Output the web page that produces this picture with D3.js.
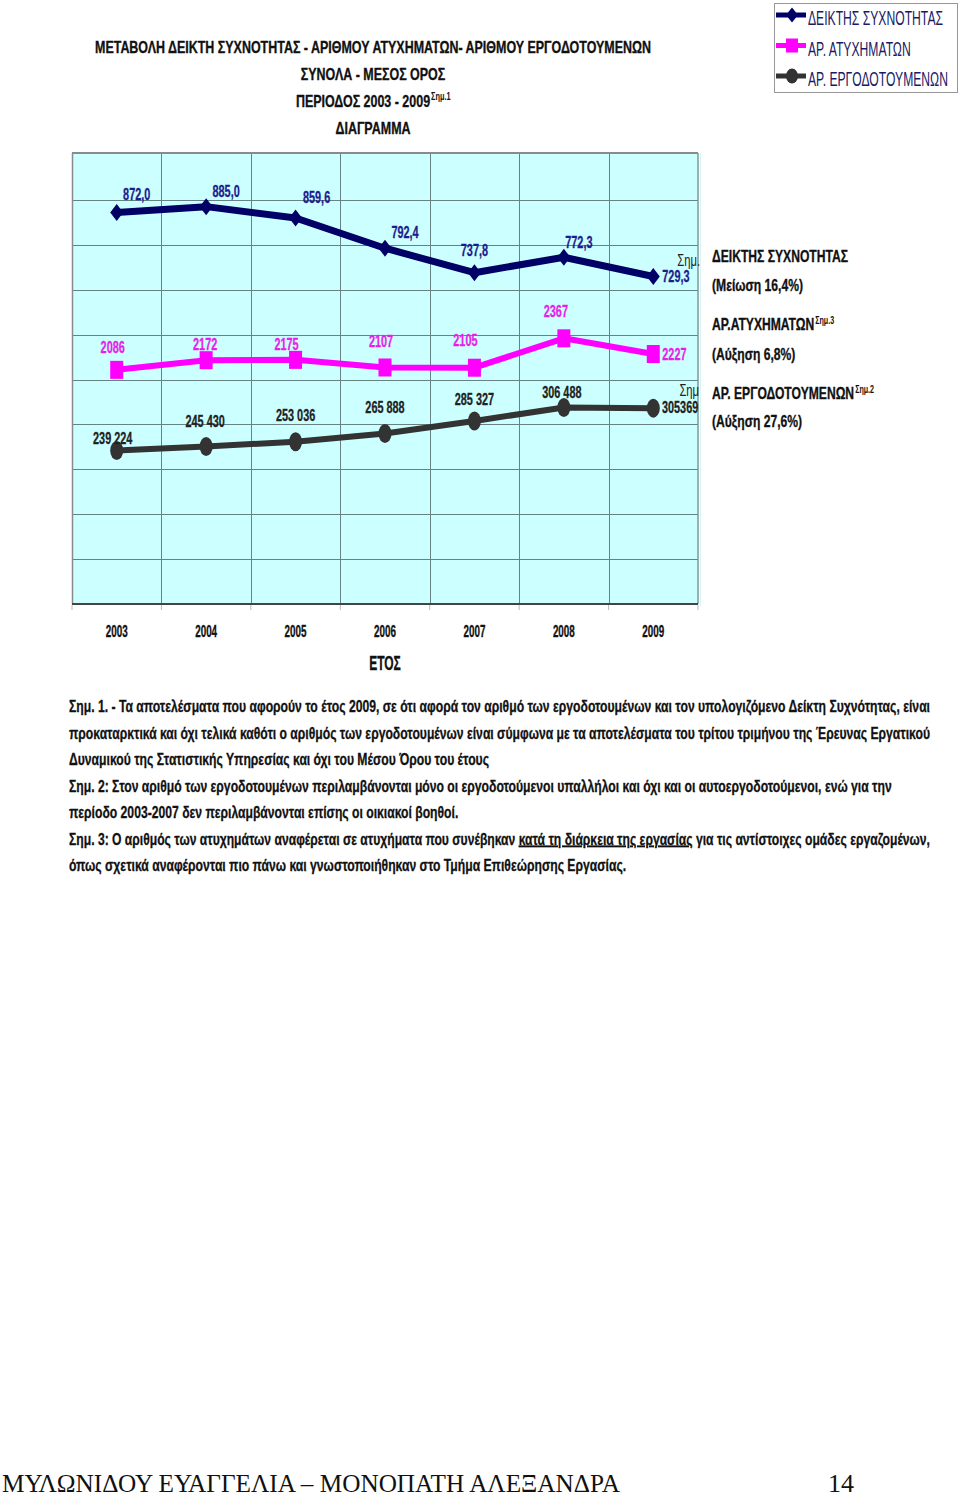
<!DOCTYPE html>
<html><head><meta charset="utf-8">
<script src="https://cdn.jsdelivr.net/npm/d3@7"></script>
<style>body{margin:0;background:#fff} svg{display:block}</style>
</head><body>
<script>
// ---------- DATA ----------
const years = ["2003","2004","2005","2006","2007","2008","2009"];
const frequencyIndex = [872.0, 885.0, 859.6, 792.4, 737.8, 772.3, 729.3];
const accidents = [2086, 2172, 2175, 2107, 2105, 2367, 2227];
const employees = [239224, 245430, 253036, 265888, 285327, 306488, 305369];
const frequencyLabels = ["872,0","885,0","859,6","792,4","737,8","772,3","729,3"];
const accidentLabels = ["2086","2172","2175","2107","2105","2367","2227"];
const employeeLabels = ["239 224","245 430","253 036","265 888","285 327","306 488","305369"];
const seriesNames = ["ΔΕΙΚΤΗΣ ΣΥΧΝΟΤΗΤΑΣ","ΑΡ. ΑΤΥΧΗΜΑΤΩΝ","ΑΡ. ΕΡΓΟΔΟΤΟΥΜΕΝΩΝ"];
const titleLines = ["ΜΕΤΑΒΟΛΗ ΔΕΙΚΤΗ ΣΥΧΝΟΤΗΤΑΣ - ΑΡΙΘΜΟΥ ΑΤΥΧΗΜΑΤΩΝ- ΑΡΙΘΜΟΥ ΕΡΓΟΔΟΤΟΥΜΕΝΩΝ","ΣΥΝΟΛΑ - ΜΕΣΟΣ ΟΡΟΣ","ΠΕΡΙΟΔΟΣ 2003 - 2009","ΔΙΑΓΡΑΜΜΑ"];
const xAxisTitle = "ΕΤΟΣ";
const changeNotes = [
  {head:"ΔΕΙΚΤΗΣ ΣΥΧΝΟΤΗΤΑΣ", sup:"", sub:"(Μείωση 16,4%)"},
  {head:"ΑΡ.ΑΤΥΧΗΜΑΤΩΝ", sup:"Σημ.3", sub:"(Αύξηση 6,8%)"},
  {head:"ΑΡ. ΕΡΓΟΔΟΤΟΥΜΕΝΩΝ", sup:"Σημ.2", sub:"(Αύξηση 27,6%)"}
];
const footnoteLines = [
  "Σημ. 1. - Τα αποτελέσματα που αφορούν το έτος 2009, σε ότι αφορά τον αριθμό των εργοδοτουμένων και τον υπολογιζόμενο Δείκτη Συχνότητας, είναι",
  "προκαταρκτικά και όχι τελικά καθότι ο αριθμός των εργοδοτουμένων είναι σύμφωνα με τα αποτελέσματα του τρίτου τριμήνου της Έρευνας Εργατικού",
  "Δυναμικού της Στατιστικής Υπηρεσίας και όχι του Μέσου Όρου του έτους",
  "Σημ. 2: Στον αριθμό των εργοδοτουμένων περιλαμβάνονται μόνο οι εργοδοτούμενοι υπαλλήλοι και όχι και οι αυτοεργοδοτούμενοι, ενώ για την",
  "περίοδο 2003-2007 δεν περιλαμβάνονται επίσης οι οικιακοί βοηθοί.",
  ["Σημ. 3: Ο αριθμός των ατυχημάτων αναφέρεται σε ατυχήματα που συνέβηκαν ","κατά τη διάρκεια της εργασίας"," για τις αντίστοιχες ομάδες εργαζομένων,"],
  "όπως σχετικά αναφέρονται πιο πάνω και γνωστοποιήθηκαν στο Τμήμα Επιθεώρησης Εργασίας."
];
const footerText = "ΜΥΛΩΝΙΔΟΥ ΕΥΑΓΓΕΛΙΑ – ΜΟΝΟΠΑΤΗ ΑΛΕΞΑΝΔΡΑ";
const pageNumber = "14";

// ---------- LAYOUT ----------
const W = 960, H = 1495;
const plot = {l:72, r:698, t:155, b:604};
const FONT = "'Liberation Sans', Arial, sans-serif";
const C = {freq:"#000066", acc:"#ff00ff", emp:"#333333", freqText:"#1c1c8c", accText:"#e81ee8", empText:"#222"};

const svg = d3.select("body").append("svg").attr("width", W).attr("height", H);

function condense(sel, k){
  sel.each(function(){
    const w = this.getComputedTextLength();
    d3.select(this).attr("textLength", w*k).attr("lengthAdjust","spacingAndGlyphs");
  });
  return sel;
}
function fitWidth(sel, w){
  const natural = sel.node().getComputedTextLength();
  sel.attr("textLength", w).attr("lengthAdjust","spacingAndGlyphs");
  return w/natural;
}
function heavy(sel, color, sw){
  return sel.attr("stroke", color).attr("stroke-width", sw || 0.35).attr("stroke-linejoin", "round");
}

// ---------- SCALES ----------
const x = d3.scaleBand().domain(years).range([plot.l, plot.r]);
const cx = d => x(d) + x.bandwidth()/2;
const yFreq = d3.scaleLinear().domain([0, 1000]).range([plot.b, plot.t]);
const yAcc = d3.scaleLinear().domain([0, 4000]).range([plot.b, plot.t]);
const yEmp = d3.scaleLinear().domain([0, 700000]).range([plot.b, plot.t]);

// ---------- PLOT AREA ----------
svg.append("rect").attr("x", plot.l).attr("y", plot.t-2).attr("width", plot.r-plot.l).attr("height", plot.b-plot.t+2)
  .attr("fill", "#ccffff");
const grid = svg.append("g").attr("stroke", "#668282").attr("stroke-width", 1);
grid.selectAll("line.h").data(yFreq.ticks(10).slice(1, -1)).join("line")
  .attr("x1", plot.l).attr("x2", plot.r).attr("y1", d => Math.round(yFreq(d))+0.5).attr("y2", d => Math.round(yFreq(d))+0.5);
grid.selectAll("line.v").data(years.slice(1)).join("line")
  .attr("x1", d => Math.round(x(d))+0.5).attr("x2", d => Math.round(x(d))+0.5).attr("y1", plot.t-2).attr("y2", plot.b);
// frame
svg.append("line").attr("x1", plot.l).attr("x2", plot.r).attr("y1", plot.t-2).attr("y2", plot.t-2).attr("stroke", "#8a8a8a").attr("stroke-width", 2);
svg.append("line").attr("x1", plot.l+0.5).attr("x2", plot.l+0.5).attr("y1", plot.t-2).attr("y2", plot.b).attr("stroke", "#8a8a8a").attr("stroke-width", 1.5);
svg.append("line").attr("x1", plot.r).attr("x2", plot.r).attr("y1", plot.t-2).attr("y2", plot.b).attr("stroke", "#7a9a9a").attr("stroke-width", 1.5);
svg.append("line").attr("x1", plot.r+2.5).attr("x2", plot.r+2.5).attr("y1", plot.t-2).attr("y2", plot.b+2).attr("stroke", "#d8f4f4").attr("stroke-width", 1);

// x axis
const xAxis = svg.append("g").attr("transform", `translate(0,${plot.b})`)
  .call(d3.axisBottom(x).tickSize(0).tickPadding(21));
xAxis.select(".domain").remove();
svg.append("line").attr("x1", plot.l).attr("x2", plot.r).attr("y1", plot.b).attr("y2", plot.b).attr("stroke", "#444").attr("stroke-width", 2);
svg.append("g").selectAll("line").data(years.concat(["end"])).join("line")
  .attr("x1", d => d==="end" ? plot.r : x(d)).attr("x2", d => d==="end" ? plot.r : x(d))
  .attr("y1", plot.b+1).attr("y2", plot.b+6).attr("stroke", "#bbb").attr("stroke-width", 1);
heavy(xAxis.selectAll("text").attr("font-family", FONT).attr("font-weight", "bold").attr("font-size", 17).attr("fill", "#111"), "#111");
condense(xAxis.selectAll("text"), 0.58);
heavy(condense(svg.append("text").attr("x", cx("2006")).attr("y", 670).attr("text-anchor", "middle")
  .attr("font-family", FONT).attr("font-weight", "bold").attr("font-size", 20).attr("fill", "#111").text(xAxisTitle), 0.6), "#111");

// ---------- SERIES ----------
function drawSeries(values, yScale, color, width){
  svg.append("path").datum(values)
    .attr("d", d3.line().x((d,i) => cx(years[i])).y(d => yScale(d)))
    .attr("fill", "none").attr("stroke", color).attr("stroke-width", width).attr("stroke-linejoin", "round");
}
drawSeries(employees, yEmp, C.emp, 6);
drawSeries(accidents, yAcc, C.acc, 6);
drawSeries(frequencyIndex, yFreq, C.freq, 7);

// markers
svg.append("g").selectAll("ellipse").data(employees).join("ellipse")
  .attr("cx", (d,i) => cx(years[i])).attr("cy", d => yEmp(d)).attr("rx", 6.5).attr("ry", 9.5).attr("fill", C.emp);
svg.append("g").selectAll("rect").data(accidents).join("rect")
  .attr("x", (d,i) => cx(years[i]) - 6.5).attr("y", d => yAcc(d) - 9).attr("width", 13).attr("height", 18).attr("fill", C.acc);
const diamond = (w,h) => `M0,${-h/2}L${w/2},0L0,${h/2}L${-w/2},0Z`;
svg.append("g").selectAll("path").data(frequencyIndex).join("path")
  .attr("transform", (d,i) => `translate(${cx(years[i])},${yFreq(d)})`).attr("d", diamond(13,17)).attr("fill", C.freq);

// ---------- VALUE LABELS ----------
const freqOff = [[20,-12,"middle"],[20,-10,"middle"],[21,-15,"middle"],[20,-10,"middle"],[0,-17,"middle"],[15,-9,"middle"],[9,5,"start"]];
const accOff  = [[-4,-17,"middle"],[-1,-10,"middle"],[-9,-10,"middle"],[-4,-20,"middle"],[-9,-22,"middle"],[-8,-21,"middle"],[9,6,"start"]];
const empOff  = [[-4,-7,"middle"],[-1,-20,"middle"],[0,-21,"middle"],[0,-20,"middle"],[0,-16,"middle"],[-2,-9,"middle"],[45,5,"end"]];
function drawLabels(values, labels, yScale, off, color){
  const t = svg.append("g").selectAll("text").data(values).join("text")
    .attr("x", (d,i) => cx(years[i]) + off[i][0]).attr("y", (d,i) => yScale(d) + off[i][1])
    .attr("text-anchor", (d,i) => off[i][2])
    .attr("font-family", FONT).attr("font-weight", "bold").attr("font-size", 17).attr("fill", color)
    .text((d,i) => labels[i]);
  heavy(condense(t, 0.64), color, 0.3);
}
drawLabels(frequencyIndex, frequencyLabels, yFreq, freqOff, C.freqText);
drawLabels(accidents, accidentLabels, yAcc, accOff, C.accText);
drawLabels(employees, employeeLabels, yEmp, empOff, C.empText);
// note marks
condense(svg.append("text").attr("x", 700).attr("y", 266).attr("text-anchor", "end").attr("font-family", FONT)
  .attr("font-size", 16).attr("fill", "#222").text("Σημ."), 0.7);
condense(svg.append("text").attr("x", 699).attr("y", 396).attr("text-anchor", "end").attr("font-family", FONT)
  .attr("font-size", 16).attr("fill", "#222").text("Σημ"), 0.7);

// ---------- RIGHT NOTES ----------
let kNote = null;
const noteY = [[262,291],[330,360],[399,427]];
changeNotes.forEach((n,i) => {
  const h = svg.append("text").attr("x", 712).attr("y", noteY[i][0]).attr("font-family", FONT).attr("font-weight", "bold")
    .attr("font-size", 17).attr("fill", "#111").text(n.head);
  heavy(h, "#111");
  if (kNote === null) kNote = fitWidth(h, 136); else condense(h, kNote);
  if (n.sup){
    const w = +h.attr("textLength");
    condense(svg.append("text").attr("x", 712 + w + 1).attr("y", noteY[i][0]-6).attr("font-family", FONT).attr("font-weight", "bold")
      .attr("font-size", 10).attr("fill", "#111").text(n.sup), kNote);
  }
  heavy(condense(svg.append("text").attr("x", 712).attr("y", noteY[i][1]).attr("font-family", FONT).attr("font-weight", "bold")
    .attr("font-size", 17).attr("fill", "#111").text(n.sub), kNote), "#111");
});

// ---------- TITLE ----------
let kTitle = null;
const titleY = [53, 80, 107, 134];
titleLines.forEach((t,i) => {
  const el = svg.append("text").attr("x", 373).attr("y", titleY[i]).attr("text-anchor", i===2 ? "start" : "middle")
    .attr("font-family", FONT).attr("font-weight", "bold").attr("font-size", 17).attr("fill", "#111").text(t);
  heavy(el, "#111");
  if (i === 0) kTitle = fitWidth(el, 556);
  else condense(el, kTitle);
  if (i === 2){
    const w = +el.attr("textLength");
    el.attr("x", 373 - (w + 20)/2);
    condense(svg.append("text").attr("x", 373 - (w+20)/2 + w + 1).attr("y", titleY[i]-7).attr("font-family", FONT).attr("font-weight", "bold")
      .attr("font-size", 10).attr("fill", "#111").text("Σημ.1"), kTitle);
  }
});

// ---------- LEGEND ----------
const lg = svg.append("g");
lg.append("rect").attr("x", 774.5).attr("y", 3.5).attr("width", 183).attr("height", 89).attr("fill", "#fff").attr("stroke", "#999");
const legendColors = [C.freq, C.acc, C.emp];
let kLeg = null;
seriesNames.forEach((name,i) => {
  const yy = 15 + i*30.5;
  lg.append("line").attr("x1", 776).attr("x2", 806).attr("y1", yy).attr("y2", yy).attr("stroke", legendColors[i]).attr("stroke-width", 5);
  if (i === 0) lg.append("path").attr("transform", `translate(792,${yy})`).attr("d", diamond(12,15)).attr("fill", legendColors[i]);
  if (i === 1) lg.append("rect").attr("x", 786).attr("y", yy-7).attr("width", 12).attr("height", 14).attr("fill", legendColors[i]);
  if (i === 2) lg.append("ellipse").attr("cx", 792).attr("cy", yy).attr("rx", 6).attr("ry", 7.5).attr("fill", legendColors[i]);
  const t = lg.append("text").attr("x", 808).attr("y", yy + 10).attr("font-family", FONT).attr("font-size", 20)
    .attr("fill", "#1a1a66").text(name);
  if (kLeg === null) kLeg = fitWidth(t, 135); else condense(t, kLeg);
});

// ---------- FOOTNOTES ----------
const fnY0 = 712, fnDY = 26.5;
let kFn = null;
{
  const probe = svg.append("text").attr("font-family", FONT).attr("font-weight", "bold").attr("font-size", 17).text(footnoteLines[2]);
  kFn = 420 / probe.node().getComputedTextLength();
  probe.remove();
}
const justified = [0, 1, 5];
footnoteLines.forEach((line, i) => {
  const t = svg.append("text").attr("x", 69).attr("y", fnY0 + i*fnDY).attr("font-family", FONT).attr("font-weight", "bold")
    .attr("font-size", 17).attr("fill", "#111");
  heavy(t, "#111", 0.3);
  if (Array.isArray(line)){
    line.forEach((part, j) => {
      const ts = t.append("tspan").text(part);
      if (j === 1) ts.style("text-decoration", "underline");
    });
  } else t.text(line);
  if (justified.includes(i)) fitWidth(t, 861); else condense(t, kFn);
});

// ---------- FOOTER ----------
fitWidth(svg.append("text").attr("x", 2).attr("y", 1492).attr("font-family", "'Liberation Serif', 'Times New Roman', serif")
  .attr("font-size", 26).attr("fill", "#111").text(footerText), 618);
svg.append("text").attr("x", 828).attr("y", 1492).attr("font-family", "'Liberation Serif', 'Times New Roman', serif")
  .attr("font-size", 26).attr("fill", "#111").text(pageNumber);
</script>
</body></html>
